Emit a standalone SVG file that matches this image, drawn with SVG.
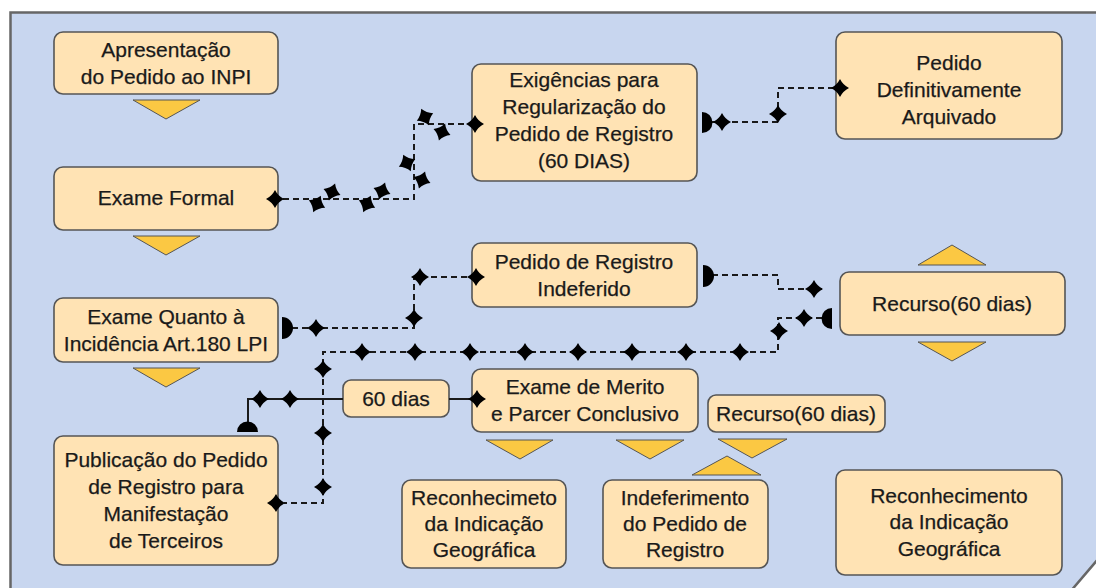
<svg xmlns="http://www.w3.org/2000/svg" width="1096" height="588" viewBox="0 0 1096 588">
<defs>
<style>
.panel{fill:#c8d6ef;stroke:#666;stroke-width:2.5}
.node rect{fill:#ffe3b4;stroke:#555;stroke-width:1.6}
.node text{font-family:"Liberation Sans",Arial,sans-serif;font-size:21px;fill:#1a1a1a;text-anchor:middle;stroke:#1a1a1a;stroke-width:0.25}
.tri{fill:#fbc843;stroke:#555;stroke-width:1}
.dash{fill:none;stroke:#1a1a1a;stroke-width:2;stroke-dasharray:6 4}
.solid{fill:none;stroke:#1a1a1a;stroke-width:2}
.mk{fill:#000}
</style>
<path id="d" d="M-9,0 Q-3,-3 0,-9 Q3,-3 9,0 Q3,3 0,9 Q-3,3 -9,0Z"/>
</defs>
<path class="panel" d="M10.5,12.5 H1110 V545 L1070,592 H10.5 Z"/>

<g id="n-apresentacao" class="node">
<rect x="54" y="32" width="224" height="62" rx="9"/>
<text x="166" y="57">Apresentação</text>
<text x="166" y="84">do Pedido ao INPI</text>
</g>
<g id="n-exame-formal" class="node">
<rect x="54" y="167" width="224" height="63" rx="9"/>
<text x="166" y="205">Exame Formal</text>
</g>
<g id="n-exigencias" class="node">
<rect x="472" y="64" width="225" height="117" rx="9"/>
<text x="584" y="87">Exigências para</text>
<text x="584" y="114">Regularização do</text>
<text x="584" y="141">Pedido de Registro</text>
<text x="584" y="168">(60 DIAS)</text>
</g>
<g id="n-arquivado" class="node">
<rect x="836" y="32" width="226" height="107" rx="9"/>
<text x="949" y="70">Pedido</text>
<text x="949" y="97">Definitivamente</text>
<text x="949" y="124">Arquivado</text>
</g>
<g id="n-indeferido" class="node">
<rect x="472" y="243" width="225" height="64" rx="9"/>
<text x="584" y="269">Pedido de Registro</text>
<text x="584" y="296">Indeferido</text>
</g>
<g id="n-recurso" class="node">
<rect x="840" y="272" width="225" height="63" rx="9"/>
<text x="952" y="311">Recurso(60 dias)</text>
</g>
<g id="n-exame-quanto" class="node">
<rect x="54" y="298" width="224" height="64" rx="9"/>
<text x="166" y="324">Exame Quanto à</text>
<text x="166" y="351">Incidência Art.180 LPI</text>
</g>
<g id="n-publicacao" class="node">
<rect x="54" y="436" width="224" height="129" rx="9"/>
<text x="166" y="467">Publicação do Pedido</text>
<text x="166" y="494">de Registro para</text>
<text x="166" y="521">Manifestação</text>
<text x="166" y="548">de Terceiros</text>
</g>
<g id="n-60dias" class="node">
<rect x="343" y="380" width="106" height="37" rx="8"/>
<text x="396" y="406">60 dias</text>
</g>
<g id="n-exame-merito" class="node">
<rect x="472" y="369" width="226" height="63" rx="9"/>
<text x="585" y="394">Exame de Merito</text>
<text x="585" y="421">e Parcer Conclusivo</text>
</g>
<g id="n-recurso2" class="node">
<rect x="708" y="395" width="177" height="37" rx="8"/>
<text x="796" y="421">Recurso(60 dias)</text>
</g>
<g id="n-reconhecimeto" class="node">
<rect x="402" y="480" width="164" height="88" rx="9"/>
<text x="484" y="505">Reconhecimeto</text>
<text x="484" y="531">da Indicação</text>
<text x="484" y="557">Geográfica</text>
</g>
<g id="n-indeferimento" class="node">
<rect x="603" y="480" width="165" height="88" rx="9"/>
<text x="685" y="505">Indeferimento</text>
<text x="685" y="531">do Pedido de</text>
<text x="685" y="557">Registro</text>
</g>
<g id="n-reconhecimento" class="node">
<rect x="836" y="470" width="226" height="105" rx="9"/>
<text x="949" y="503">Reconhecimento</text>
<text x="949" y="529">da Indicação</text>
<text x="949" y="556">Geográfica</text>
</g>

<g id="triangles">
<polygon class="tri" points="133,100 200,100 166,119"/>
<polygon class="tri" points="133,236 200,236 166,255"/>
<polygon class="tri" points="133,368 200,368 166,387"/>
<polygon class="tri" points="918,265 986,265 952,245"/>
<polygon class="tri" points="918,342 986,342 952,361"/>
<polygon class="tri" points="486,440 553,440 520,459"/>
<polygon class="tri" points="616,440 684,440 650,459"/>
<polygon class="tri" points="718,439 787,439 752,458"/>
<polygon class="tri" points="692,475 761,475 727,456"/>
</g>

<g id="connectors">
<!-- Exame Formal -> Exigencias -->
<path class="dash" d="M283,199 H414 V124 H468"/>
<use href="#d" class="mk" x="275" y="199"/>
<use href="#d" class="mk" transform="translate(317,204) rotate(25)"/>
<use href="#d" class="mk" transform="translate(332,192) rotate(20)"/>
<use href="#d" class="mk" transform="translate(367,204) rotate(25)"/>
<use href="#d" class="mk" transform="translate(382,191) rotate(20)"/>
<use href="#d" class="mk" transform="translate(407,163) rotate(-25)"/>
<use href="#d" class="mk" transform="translate(422,180) rotate(20)"/>
<use href="#d" class="mk" transform="translate(425,117) rotate(-25)"/>
<use href="#d" class="mk" transform="translate(442,132) rotate(20)"/>
<use href="#d" class="mk" x="475" y="124"/>
<!-- Exigencias -> Arquivado -->
<path class="dash" d="M712,122 H778 V88 H834"/>
<path class="mk" d="M702,112 A10,10 0 0 1 702,133 Z"/>
<use href="#d" class="mk" x="722" y="122"/>
<use href="#d" class="mk" x="778" y="114"/>
<use href="#d" class="mk" x="840" y="88"/>
<!-- Exame Quanto -> Indeferido -->
<path class="dash" d="M292,328 H414 V277 H468"/>
<path class="mk" d="M282,317 A11,11 0 0 1 282,339 Z"/>
<use href="#d" class="mk" x="316" y="328"/>
<use href="#d" class="mk" x="414" y="318"/>
<use href="#d" class="mk" x="420" y="277"/>
<use href="#d" class="mk" x="476" y="277"/>
<!-- Indeferido -> Recurso -->
<path class="dash" d="M712,275 H778 V289 H822"/>
<path class="mk" d="M703,265 A11,11 0 0 1 703,287 Z"/>
<use href="#d" class="mk" x="814" y="289"/>
<!-- Recurso -> Publicacao -->
<path class="dash" d="M822,318 H778 V352 H323 V503 H284"/>
<path class="mk" d="M832,308 A10,10 0 0 0 832,329 Z"/>
<use href="#d" class="mk" x="804" y="318"/>
<use href="#d" class="mk" x="779" y="331"/>
<use href="#d" class="mk" x="740" y="352"/>
<use href="#d" class="mk" x="686" y="352"/>
<use href="#d" class="mk" x="632" y="352"/>
<use href="#d" class="mk" x="578" y="352"/>
<use href="#d" class="mk" x="525" y="352"/>
<use href="#d" class="mk" x="470" y="352"/>
<use href="#d" class="mk" x="415" y="352"/>
<use href="#d" class="mk" x="362" y="352"/>
<use href="#d" class="mk" x="323" y="369"/>
<use href="#d" class="mk" x="323" y="433"/>
<use href="#d" class="mk" x="323" y="487"/>
<use href="#d" class="mk" x="276" y="503"/>
<!-- Publicacao -> 60 dias -> Exame de Merito -->
<path class="solid" d="M248,428 V399 H343"/>
<path class="solid" d="M449,399 H470"/>
<path class="mk" d="M237,432 A10,10 0 0 1 258,432 Z"/>
<use href="#d" class="mk" x="260" y="399"/>
<use href="#d" class="mk" x="290" y="399"/>
<use href="#d" class="mk" x="477" y="399"/>
</g>
</svg>
